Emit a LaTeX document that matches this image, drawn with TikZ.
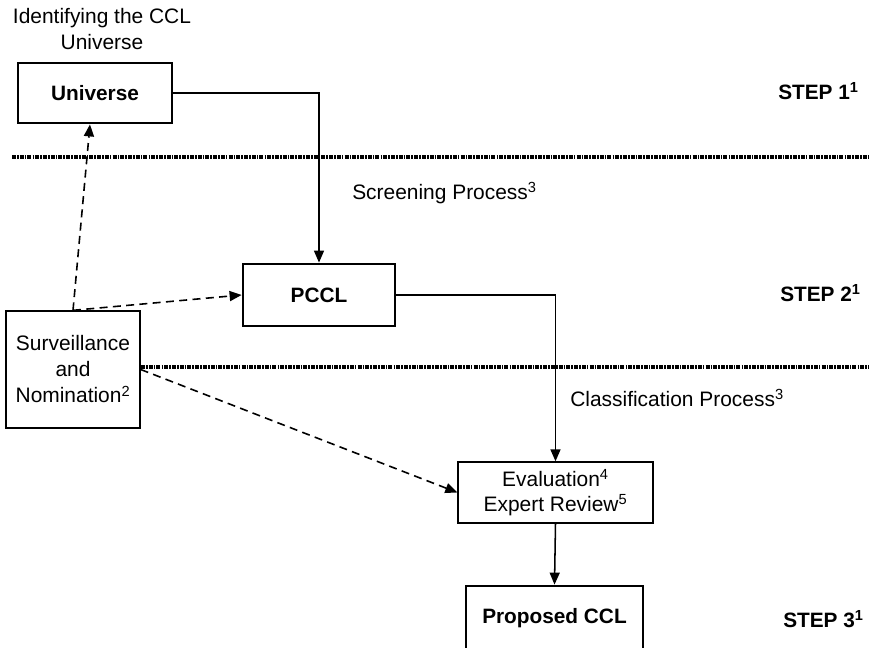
\documentclass[tikz,border=0pt]{standalone}
\usepackage{fontspec}
\setmainfont{Liberation Sans}
\usetikzlibrary{arrows.meta,calc}
\tikzset{
  thickbox/.style={draw, line width=2.1pt, inner sep=0pt, align=center, font=\fontsize{15.6}{18}\selectfont\bfseries},
  thinbox/.style={draw, line width=1pt, inner sep=0pt, align=center, font=\fontsize{15.7}{19.5}\selectfont},
  conn/.style={line width=1.15pt, -{Triangle[length=9pt,width=7.5pt]}},
  dconn/.style={line width=1.2pt, dash pattern=on 6pt off 4pt, -{Triangle[length=9pt,width=7.5pt]}},
  sep/.style={line width=2.3pt, dash pattern=on 3pt off 0.8pt on 1.2pt off 0.8pt},
  lbl/.style={inner sep=0pt, font=\fontsize{15.7}{19}\selectfont},
  steplbl/.style={inner sep=0pt, anchor=west, font=\fontsize{15.6}{18}\selectfont\bfseries},
}
\begin{document}
\begin{tikzpicture}[x=0.75pt,y=-0.75pt]
\useasboundingbox (0,0) rectangle (872,648);
\clip (0,0) rectangle (872,648);
% title
\node[lbl, align=center, font=\fontsize{15.7}{19.5}\selectfont] (title) at (102,29) {Identifying the CCL\\Universe};
% boxes
\node[thickbox, minimum width=115.5pt, minimum height=45pt] (univ) at (95,93) {Universe};
\node[thickbox, minimum width=114pt, minimum height=46.5pt] (pccl) at (319,295) {PCCL};
\node[thinbox, minimum width=100.5pt, minimum height=87.75pt] (surv) at (73,369.5) {Surveillance\\and\\Nomination\textsuperscript{2}};
\node[thinbox, minimum width=146.25pt, minimum height=45.75pt, font=\fontsize{15.7}{18.5}\selectfont] (eval) at (555.5,492.5) {Evaluation\textsuperscript{4}\\Expert Review\textsuperscript{5}};
\node[thickbox, minimum width=132.75pt, minimum height=48pt] (prop) at (554.5,618) {Proposed CCL};
% separators
\draw[sep] (12,157) -- (868,157);
\draw[sep] (141,367) -- (868,367);
% step labels
\node[steplbl] (s1) at (778,91) {STEP 1\textsuperscript{1}};
\node[steplbl] (s2) at (780,293) {STEP 2\textsuperscript{1}};
\node[steplbl] (s3) at (783,619) {STEP 3\textsuperscript{1}};
% process labels
\node[lbl, anchor=west] (scr) at (352,193) {Screening Process\textsuperscript{3}};
\node[lbl, anchor=west] (cls) at (570,398) {Classification Process\textsuperscript{3}};
% connectors
\draw[conn] (univ.east) -| (pccl.north);
\draw[conn] (pccl.east) -| (eval.north);
\draw[conn] (eval.south) -- (prop.north);
\draw[dconn] (surv.north) -- ([xshift=-3.75pt]univ.south);
\draw[dconn] (surv.north) -- (pccl.west);
\draw[dconn] (surv.east) -- (eval.west);
\end{tikzpicture}
\end{document}
